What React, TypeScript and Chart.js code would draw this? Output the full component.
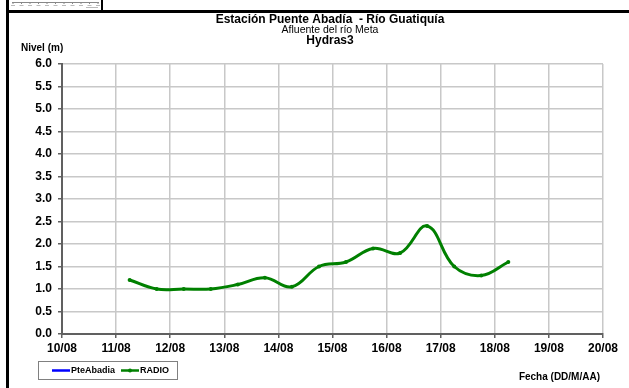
import React, { useEffect, useRef } from "react";
import { Chart, registerables } from "chart.js";

Chart.register(...registerables);

const titleLine1 = "Estación Puente Abadía  - Río Guatiquía";
const titleLine2 = "Afluente del río Meta";
const titleLine3 = "Hydras3";
const yAxisTitle = "Nivel (m)";
const xAxisTitle = "Fecha (DD/M/AA)";

const xTickLabels = ["10/08", "11/08", "12/08", "13/08", "14/08", "15/08", "16/08", "17/08", "18/08", "19/08", "20/08"];
const yTickMin = 0;
const yTickMax = 6;
const yTickStep = 0.5;

const seriesNames = ["PteAbadia", "RADIO"];
const seriesColors = ["#0000ff", "#008000"];

const pteAbadiaTimes: string[] = [];
const pteAbadiaLevels: number[] = [];

const radioTimes = [
  "11/08 06:00", "11/08 18:00", "12/08 06:00", "12/08 18:00", "13/08 06:00",
  "13/08 18:00", "14/08 06:00", "14/08 18:00", "15/08 06:00", "15/08 18:00",
  "16/08 06:00", "16/08 18:00", "17/08 06:00", "17/08 18:00", "18/08 06:00",
];
const radioLevels = [1.2, 1.0, 1.0, 1.0, 1.1, 1.25, 1.05, 1.5, 1.6, 1.9, 1.8, 2.4, 1.5, 1.3, 1.6];

const FONT = "'Liberation Sans', Arial, sans-serif";

// convert "DD/MM HH:MM" to day offset from first tick label
function toDay(s: string): number {
  const [d, t] = s.split(" ");
  const day = parseInt(d.split("/")[0], 10);
  const [hh, mm] = (t || "00:00").split(":").map((v) => parseInt(v, 10));
  const base = parseInt(xTickLabels[0].split("/")[0], 10);
  return day - base + (hh + mm / 60) / 24;
}

const extrasPlugin = {
  id: "extras",
  afterDraw(chart: any) {
    const ctx = chart.ctx as CanvasRenderingContext2D;
    ctx.save();
    // frame
    ctx.fillStyle = "#000";
    ctx.fillRect(6, 0, 3, 388);
    ctx.fillRect(6, 10, 623, 3);
    // small strip top-left
    ctx.fillRect(101, 0, 2, 10);
    ctx.strokeStyle = "#888";
    ctx.lineWidth = 1;
    ctx.beginPath();
    ctx.moveTo(12, 2.5);
    ctx.lineTo(99, 2.5);
    ctx.stroke();
    for (let i = 0; i < 11; i++) {
      const x = 13 + i * 8.5;
      ctx.beginPath();
      ctx.moveTo(x, 2);
      ctx.lineTo(x, 4);
      ctx.stroke();
      ctx.fillStyle = "#bbb";
      ctx.fillRect(x - 2, 5, 4, 1);
    }
    ctx.fillRect(86, 7, 12, 1);

    // titles
    ctx.fillStyle = "#000";
    ctx.textAlign = "center";
    ctx.textBaseline = "middle";
    const cx = 330;
    ctx.font = `bold 12px ${FONT}`;
    ctx.fillText(titleLine1, cx, 19.5);
    ctx.font = `10.5px ${FONT}`;
    ctx.fillText(titleLine2, cx, 30);
    ctx.font = `bold 12px ${FONT}`;
    ctx.fillText(titleLine3, cx, 41);

    // axis titles
    ctx.font = `bold 10px ${FONT}`;
    ctx.textAlign = "left";
    ctx.fillText(yAxisTitle, 21, 48);
    ctx.textAlign = "right";
    ctx.fillText(xAxisTitle, 600, 377);

    // legend
    const lx = 38, ly = 361, lw = 139, lh = 18;
    ctx.strokeStyle = "#808080";
    ctx.lineWidth = 1;
    ctx.strokeRect(lx + 0.5, ly + 0.5, lw, lh);
    const ds = chart.data.datasets;
    const items = [
      { x: 52, ds: ds[0] },
      { x: 121, ds: ds[1] },
    ];
    ctx.font = `bold 9px ${FONT}`;
    ctx.textAlign = "left";
    items.forEach((it) => {
      const y = ly + lh / 2 + 0.5;
      ctx.strokeStyle = it.ds.borderColor;
      ctx.lineWidth = 2.5;
      ctx.beginPath();
      ctx.moveTo(it.x, y);
      ctx.lineTo(it.x + 18, y);
      ctx.stroke();
      if (it.ds.pointRadius > 0) {
        ctx.fillStyle = it.ds.borderColor;
        ctx.beginPath();
        ctx.arc(it.x + 9, y, 2, 0, Math.PI * 2);
        ctx.fill();
      }
      ctx.fillStyle = "#000";
      ctx.fillText(it.ds.label, it.x + 19, y);
    });
    ctx.restore();
  },
};

export default function App() {
  const ref = useRef<HTMLCanvasElement | null>(null);
  useEffect(() => {
    if (!ref.current) return;
    const chart = new Chart(ref.current, {
      type: "line",
      data: {
        datasets: [
          {
            label: seriesNames[0],
            data: pteAbadiaTimes.map((t, i) => ({ x: toDay(t), y: pteAbadiaLevels[i] })),
            borderColor: seriesColors[0],
            backgroundColor: seriesColors[0],
            borderWidth: 2.5,
            pointRadius: 0,
            tension: 0.4,
          },
          {
            label: seriesNames[1],
            data: radioTimes.map((t, i) => ({ x: toDay(t), y: radioLevels[i] })),
            borderColor: seriesColors[1],
            backgroundColor: seriesColors[1],
            borderWidth: 3,
            pointRadius: 2,
            pointBorderWidth: 0,
            pointBackgroundColor: seriesColors[1],
            tension: 0.4,
          },
        ],
      },
      options: {
        responsive: false,
        animation: false,
        devicePixelRatio: 1,
        layout: { padding: { top: 64, right: 26, left: 0, bottom: 0 } },
        plugins: {
          legend: { display: false },
          tooltip: { enabled: false },
          title: { display: false },
        },
        scales: {
          x: {
            type: "linear",
            min: 0,
            max: xTickLabels.length - 1,
            afterFit: (s: any) => {
              s.height = 54;
            },
            afterBuildTicks: (s: any) => {
              s.ticks = xTickLabels.map((_, i) => ({ value: i }));
            },
            ticks: {
              autoSkip: false,
              maxRotation: 0,
              color: "#000",
              font: { family: FONT, size: 12, weight: "bold" },
              padding: 3,
              callback: (v: any) => xTickLabels[Math.round(Number(v))] ?? "",
            },
            grid: {
              color: "#c8c8c8",
              lineWidth: 1.5,
              tickColor: "#606060",
              tickLength: 4,
              drawTicks: true,
            },
            border: { color: "#606060", width: 2 },
          },
          y: {
            type: "linear",
            min: yTickMin,
            max: yTickMax,
            afterFit: (s: any) => {
              s.width = 62;
            },
            ticks: {
              stepSize: yTickStep,
              color: "#000",
              font: { family: FONT, size: 12, weight: "bold" },
              padding: 6,
              callback: (v: any) => Number(v).toFixed(1),
            },
            grid: {
              color: "#c8c8c8",
              lineWidth: 1.5,
              tickColor: "#606060",
              tickLength: 4,
            },
            border: { color: "#606060", width: 2 },
          },
        },
      },
      plugins: [extrasPlugin],
    });
    return () => chart.destroy();
  }, []);
  return (
    <div style={{ position: "fixed", left: 0, top: 0, width: 629, height: 388, background: "#fff" }}>
      <canvas ref={ref} width={629} height={388} style={{ display: "block" }} />
    </div>
  );
}
